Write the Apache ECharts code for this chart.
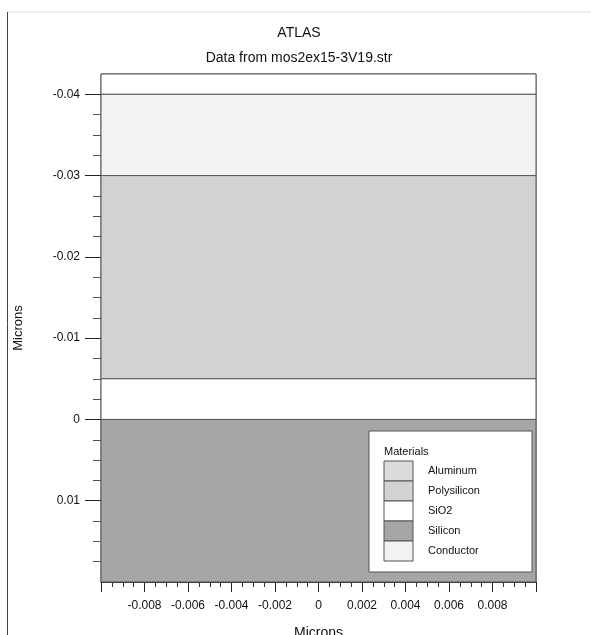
<!DOCTYPE html>
<html>
<head>
	<meta charset="UTF-8">
	<title>ATLAS structure</title>
	<script src="https://cdn.jsdelivr.net/npm/echarts@6/dist/echarts.min.js"></script>
	<style>
		html, body { margin: 0; padding: 0; background: #fff; }
		#main { width: 591px; height: 635px; }
	</style>
</head>
<body>
	<div id="main"></div>
	<script type="text/javascript">
		// layers of the structure, top to bottom (microns)
		var layerNames  = ['SiO2', 'Conductor', 'Polysilicon', 'SiO2', 'Silicon'];
		var layerTop    = [-0.0425, -0.04, -0.03, -0.005, 0];
		var layerBottom = [-0.04, -0.03, -0.005, 0, 0.02];
		var xRange      = [-0.01, 0.01];
		var yRange      = [-0.0425, 0.02];

		// legend
		var materials      = ['Aluminum', 'Polysilicon', 'SiO2', 'Silicon', 'Conductor'];
		var materialColors = ['#dcdcdc', '#d2d2d2', '#ffffff', '#a6a6a6', '#f2f2f2'];

		// y tick marks
		var yMajorTicks = [-0.04, -0.03, -0.02, -0.01, 0, 0.01];
		var yMinorTicks = [-0.0375, -0.035, -0.0325, -0.0275, -0.025, -0.0225, -0.0175, -0.015, -0.0125,
			-0.0075, -0.005, -0.0025, 0.0025, 0.005, 0.0075, 0.0125, 0.015, 0.0175];

		var chart = echarts.init(document.getElementById('main'));

		function colorOf(name) {
			return materialColors[materials.indexOf(name)];
		}

		var layerData = [];
		for (var i = 0; i < layerNames.length; i++) {
			layerData.push([i, layerTop[i], layerBottom[i]]);
		}

		var font = 'Liberation Sans, Arial, sans-serif';

		// legend built as graphics
		var legendGraphics = [
			{ type: 'rect', shape: { x: 369, y: 431, width: 163, height: 141 },
			  style: { fill: '#fff', stroke: '#555', lineWidth: 1 }, z: 100 },
			{ type: 'text', x: 384, y: 452, z: 101,
			  style: { text: 'Materials', fill: '#111', font: '11px ' + font, textVerticalAlign: 'middle' } }
		];
		for (var m = 0; m < materials.length; m++) {
			legendGraphics.push({
				type: 'rect', z: 101,
				shape: { x: 384, y: 461 + m * 20, width: 29, height: 20 },
				style: { fill: materialColors[m], stroke: '#555', lineWidth: 1 }
			});
			legendGraphics.push({
				type: 'text', x: 428, y: 471 + m * 20, z: 101,
				style: { text: materials[m], fill: '#111', font: '11px ' + font, textVerticalAlign: 'middle' }
			});
		}

		var option = {
			animation: false,
			backgroundColor: '#fff',
			title: [
				{ text: 'ATLAS', left: 294, top: 21, textAlign: 'center',
				  textStyle: { fontSize: 14, fontWeight: 'normal', color: '#111', fontFamily: font } },
				{ text: 'Data from mos2ex15-3V19.str', left: 294, top: 46, textAlign: 'center',
				  textStyle: { fontSize: 14, fontWeight: 'normal', color: '#111', fontFamily: font } }
			],
			grid: {
				left: 101, right: 55, top: 74, bottom: 53,
				outerBoundsMode: 'none',
				show: true, borderColor: '#555', borderWidth: 1
			},
			xAxis: {
				type: 'value',
				min: xRange[0], max: xRange[1], interval: 0.002,
				name: 'Microns', nameLocation: 'middle', nameGap: 44,
				nameTextStyle: { fontSize: 14, color: '#111', fontFamily: font },
				axisLine: { show: true, onZero: false, lineStyle: { color: '#333', width: 1 } },
				axisTick: { show: true, length: 10, lineStyle: { color: '#222' } },
				minorTick: { show: true, splitNumber: 4, length: 5, lineStyle: { color: '#333' } },
				splitLine: { show: false },
				axisLabel: {
					showMinLabel: false, showMaxLabel: false, margin: 18,
					fontSize: 12, color: '#111', fontFamily: font
				}
			},
			yAxis: [
				{
					type: 'value', inverse: true,
					min: yRange[0], max: yRange[1],
					name: 'Microns', nameLocation: 'middle', nameGap: 76,
					nameTextStyle: { fontSize: 13, color: '#111', fontFamily: font },
					axisLine: { show: true, onZero: false, lineStyle: { color: '#333', width: 1 } },
					axisTick: { show: true, length: 16, customValues: yMajorTicks, lineStyle: { color: '#222' } },
					splitLine: { show: false },
					axisLabel: {
						customValues: yMajorTicks, margin: 21,
						fontSize: 12, color: '#111', fontFamily: font
					}
				},
				{
					type: 'value', inverse: true, position: 'left',
					min: yRange[0], max: yRange[1],
					axisLine: { show: false, onZero: false },
					axisTick: { show: true, length: 8, customValues: yMinorTicks, lineStyle: { color: '#555' } },
					splitLine: { show: false },
					axisLabel: { show: false }
				}
			],
			series: [{
				type: 'custom',
				xAxisIndex: 0, yAxisIndex: 0,
				data: layerData,
				renderItem: function (params, api) {
					var idx = api.value(0);
					var p0 = api.coord([xRange[0], api.value(1)]);
					var p1 = api.coord([xRange[1], api.value(2)]);
					return {
						type: 'rect',
						shape: { x: p0[0], y: p0[1], width: p1[0] - p0[0], height: p1[1] - p0[1] },
						style: { fill: colorOf(layerNames[idx]), stroke: '#555', lineWidth: 1 }
					};
				}
			}],
			graphic: [
				{ type: 'line', shape: { x1: 7, y1: 12, x2: 591, y2: 12 },
				  style: { stroke: '#e2e2e2', lineWidth: 1 } },
				{ type: 'line', shape: { x1: 7.5, y1: 12, x2: 7.5, y2: 635 },
				  style: { stroke: '#444', lineWidth: 1 } }
			].concat(legendGraphics)
		};

		chart.setOption(option);
	</script>
</body>
</html>
